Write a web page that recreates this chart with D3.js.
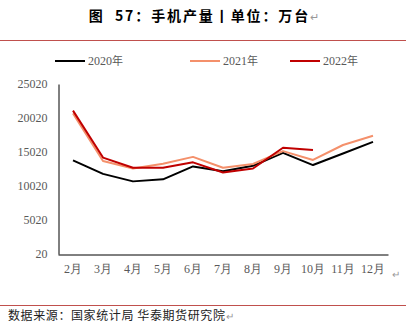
<!DOCTYPE html>
<html><head><meta charset="utf-8">
<script src="https://cdn.jsdelivr.net/npm/d3@7"></script>
<style>body{margin:0;background:#fff;}svg{display:block;}
.num{font-family:"Liberation Serif","DejaVu Serif",serif;}
</style>
</head><body>
<svg id="c" width="406" height="328"></svg>
<script>
const months = ["2月","3月","4月","5月","6月","7月","8月","9月","10月","11月","12月"];
const s2020 = [13800,11800,10700,11000,12900,12200,13000,14900,13100,14800,16500];
const s2021 = [20700,13700,12600,13300,14300,12700,13250,15150,13850,16050,17400];
const s2022 = [21100,14200,12700,12700,13500,12000,12600,15650,15300];
const yTicks = [20,5020,10020,15020,20020,25020];
const seriesNames = ["2020","2021","2022"];
const colors = ["#000000","#f4906b","#c00000"];

const svg = d3.select("#c");
const cjk = "'Noto Sans CJK SC', sans-serif";

// Title
const t = svg.append("text").attr("x",204).attr("y",21).attr("text-anchor","middle")
  .attr("font-family",cjk).attr("font-size",14).attr("font-weight","bold").attr("fill","#000")
  .attr("letter-spacing",1.9).attr("xml:space","preserve");
t.append("tspan").text("图  57：手机产量丨单位：万台");
t.append("tspan").attr("font-weight","normal").attr("fill","#999").attr("font-size",11).attr("letter-spacing",0).text("↵");

svg.append("line").attr("x1",0).attr("x2",406).attr("y1",40.5).attr("y2",40.5).attr("stroke","#c0504d").attr("stroke-width",1);
svg.append("line").attr("x1",0).attr("x2",406).attr("y1",305.5).attr("y2",305.5).attr("stroke","#c0504d").attr("stroke-width",1);

svg.append("text").attr("x",8).attr("y",320).attr("font-family",cjk).attr("font-size",12).attr("fill","#222")
  .attr("letter-spacing",0.6)
  .text("数据来源：国家统计局 华泰期货研究院").append("tspan").attr("fill","#999").attr("font-size",10).text("↵");

const x = d3.scaleBand().domain(months).range([58,388]);
const y = d3.scaleLinear().domain([20,25020]).range([254,84]);

// y axis
const ya = svg.append("g").attr("transform","translate(58.5,0)")
  .call(d3.axisLeft(y).tickValues(yTicks).tickSize(0).tickPadding(11).tickFormat(d=>d));
ya.attr("font-family",null).attr("font-size",null);
ya.select(".domain").attr("stroke","#000");
ya.selectAll("text").attr("class","num").style("font-size","12px").style("fill","#595959");

const xa = svg.append("g").attr("transform","translate(0,254.5)")
  .call(d3.axisBottom(x).tickSize(0).tickPadding(10));
xa.attr("font-family",null).attr("font-size",null);
xa.select(".domain").attr("stroke","#000");
xa.selectAll("text").attr("class","num").style("font-size","12px").style("fill","#595959");

svg.append("text").attr("x",392).attr("y",278).attr("font-size",10).attr("fill","#999").attr("font-family",cjk).text("↵");

const line = d3.line().x((d,i)=>x(months[i])+x.bandwidth()/2).y(d=>y(d));
[s2020,s2021,s2022].forEach((s,k)=>{
  svg.append("path").datum(s).attr("d",line).attr("fill","none")
    .attr("stroke",colors[k]).attr("stroke-width",2).attr("stroke-linejoin","round");
});

// legend
const lx = [55,190,290];
seriesNames.forEach((n,k)=>{
  svg.append("line").attr("x1",lx[k]).attr("x2",lx[k]+30).attr("y1",61).attr("y2",61)
    .attr("stroke",colors[k]).attr("stroke-width",2);
  svg.append("text").attr("class","num").attr("x",lx[k]+33).attr("y",65).style("font-size","12px")
    .style("fill","#595959").text(n).append("tspan").attr("font-family",cjk).style("font-size","11px").text("年");
});
</script>
</body></html>
